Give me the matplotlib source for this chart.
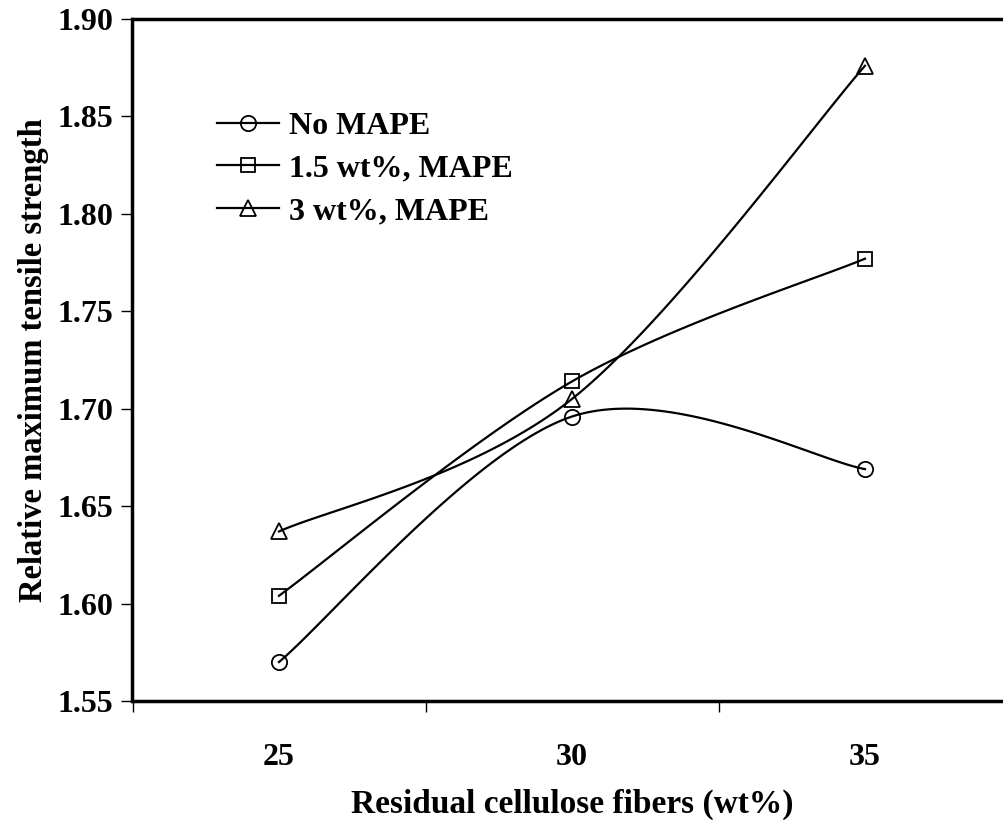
import numpy as np
import matplotlib
matplotlib.use("Agg")
import matplotlib.pyplot as plt

# data
fiber = [25, 30, 35]
no_mape = [1.570, 1.696, 1.669]
mape_15 = [1.604, 1.714, 1.777]
mape_3 = [1.637, 1.705, 1.876]
labels = ["No MAPE", "1.5 wt%, MAPE", "3 wt%, MAPE"]
markers = ["o", "s", "^"]


def smooth(x, y, n=60):
    # Excel-like smoothed line (Catmull-Rom through bezier segments)
    x = np.asarray(x, float)
    y = np.asarray(y, float)
    px = np.concatenate([[x[0]], x, [x[-1]]])
    py = np.concatenate([[y[0]], y, [y[-1]]])
    xs, ys = [], []
    t = np.linspace(0, 1, n)
    for i in range(1, len(px) - 2):
        p0 = np.array([px[i], py[i]])
        p3 = np.array([px[i + 1], py[i + 1]])
        p1 = p0 + (np.array([px[i + 1], py[i + 1]]) - np.array([px[i - 1], py[i - 1]])) / 6
        p2 = p3 - (np.array([px[i + 2], py[i + 2]]) - np.array([px[i], py[i]])) / 6
        b = ((1 - t) ** 3)[:, None] * p0 + (3 * (1 - t) ** 2 * t)[:, None] * p1 \
            + (3 * (1 - t) * t ** 2)[:, None] * p2 + (t ** 3)[:, None] * p3
        xs.extend(b[:, 0])
        ys.extend(b[:, 1])
    return xs, ys


plt.rcParams['font.family'] = 'Liberation Serif'
plt.rcParams['font.weight'] = 'bold'

fig = plt.figure(figsize=(10.04, 8.36), dpi=100)
# right spine falls just outside the picture, as in the reference
ax = fig.add_axes([132.5 / 1004, 1 - 701 / 836, (1011.5 - 132.5) / 1004, (701 - 19) / 836])

msz = {'o': 11, 's': 10, '^': 11}
for ys, m, lab in zip([no_mape, mape_15, mape_3], markers, labels):
    sx, sy = smooth(fiber, ys)
    ax.plot(sx, sy, color='black', lw=1.6)
    ax.plot(fiber, ys, linestyle='none', marker=m, markersize=msz[m],
            markerfacecolor='none', markeredgecolor='black', markeredgewidth=1.3)
    ax.plot([], [], color='black', lw=1.6, marker=m, markersize=msz[m],
            markerfacecolor='none', markeredgecolor='black', markeredgewidth=1.3, label=lab)

ax.set_xlim(22.5, 37.5)
ax.set_ylim(1.55, 1.90)
ax.set_xticks([25, 30, 35])
ax.set_xticks([22.5, 27.5, 32.5, 37.5], minor=True)
ax.tick_params(axis='x', which='major', length=0, pad=30, labelsize=23)
ax.tick_params(axis='x', which='minor', length=8, width=1, direction='out')
ax.set_yticks(np.arange(1.55, 1.901, 0.05))
ax.set_yticklabels(["%.2f" % v for v in np.arange(1.55, 1.901, 0.05)])
ax.tick_params(axis='y', length=8, width=1, direction='out', labelsize=23, pad=6)

for s in ax.spines.values():
    s.set_linewidth(2.5)

ax.set_xlabel("Residual cellulose fibers (wt%)", fontsize=24, fontweight='bold', labelpad=12)
ax.set_ylabel("Relative maximum tensile strength", fontsize=23.5, fontweight='bold', labelpad=6)

ax.legend(loc='upper left', bbox_to_anchor=(0.078, 0.888), frameon=False, fontsize=23,
          handlelength=1.95, handletextpad=0.3, labelspacing=0.42, borderpad=0)

fig.savefig("out.png", dpi=100)
